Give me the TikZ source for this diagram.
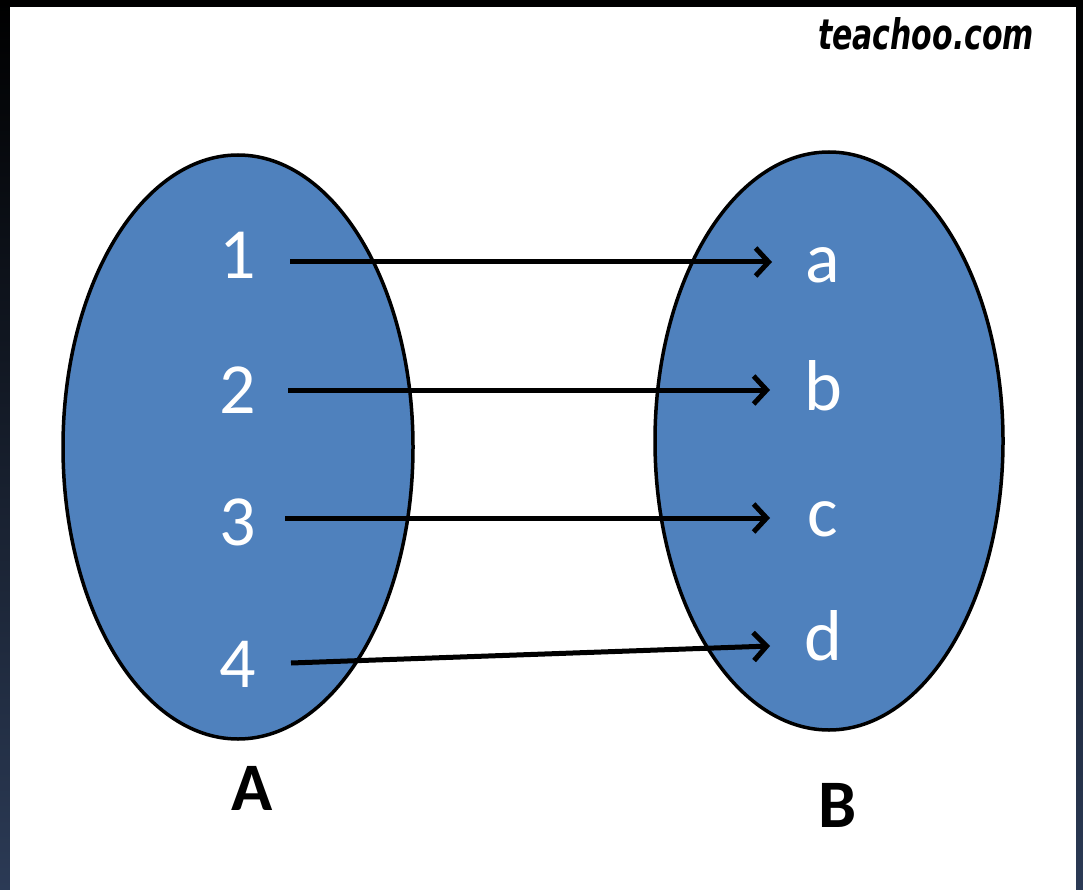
\documentclass[tikz,border=0pt]{standalone}
\usepackage{fontspec}
\setmainfont{Carlito}
\newfontfamily\logofont{DejaVu Sans Condensed}
\usetikzlibrary{shapes.geometric,arrows.meta}
\definecolor{setblue}{HTML}{4F81BD}
\definecolor{framenavy}{HTML}{2B3A55}
\begin{document}
\begin{tikzpicture}[x=1pt,y=-1pt,
  setellipse/.style={ellipse, draw=black, line width=3.5pt, fill=setblue, inner sep=0pt, outer sep=0pt},
  elem/.style={text=white, font=\fontsize{72}{72}\selectfont, anchor=base, inner sep=0pt},
  setname/.style={text=black, font=\bfseries\fontsize{68}{68}\selectfont, anchor=base, inner sep=0pt},
  maparrow/.style={line width=5pt, -{Straight Barb[length=13pt,width=28pt]}}]
\useasboundingbox (0,0) rectangle (1083,890);
\fill[top color=black,bottom color=framenavy] (0,0) rectangle (1083,890);
\fill[white] (10,7) rectangle (1076,890);
% sets
\node[setellipse, minimum width=350pt, minimum height=584pt] (A) at (238,447) {};
\node[setellipse, minimum width=348pt, minimum height=578pt] (B) at (829,441) {};
% elements
\node[elem] (n1) at (238,279) {1};
\node[elem] (n2) at (238,413) {2};
\node[elem] (n3) at (238,545) {3};
\node[elem] (n4) at (238,687) {4};
\node[elem] (la) at (823,283) {a};
\node[elem] (lb) at (823,410) {b};
\node[elem] (lc) at (823,536) {c};
\node[elem] (ld) at (823,660) {d};
% set names
\node[setname] (nameA) at (252,810) {A};
\node[setname] (nameB) at (838,827) {B};
% logo
\node[inner sep=0pt, anchor=base] (logo) at (926,50) {\resizebox{216pt}{32pt}{\logofont\bfseries\itshape teachoo.com}};
% arrow ends
\coordinate (s1) at (290,262); \coordinate (t1) at (772,262);
\coordinate (s2) at (288,390); \coordinate (t2) at (770,390);
\coordinate (s3) at (285,518); \coordinate (t3) at (770,518);
\coordinate (s4) at (291,663); \coordinate (t4) at (770,646);
\draw[maparrow] (s1) -- (t1);
\draw[maparrow] (s2) -- (t2);
\draw[maparrow] (s3) -- (t3);
\draw[maparrow] (s4) -- (t4);
\end{tikzpicture}
\end{document}
